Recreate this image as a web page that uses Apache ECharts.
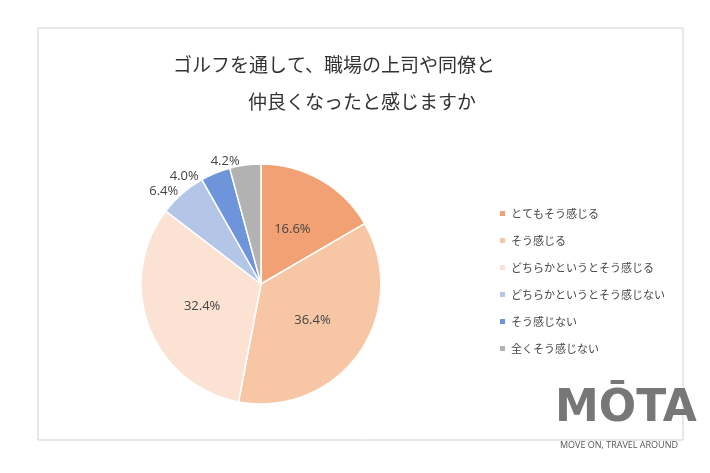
<!DOCTYPE html><html><head><meta charset="utf-8"><script src="https://cdn.jsdelivr.net/npm/echarts@6/dist/echarts.min.js"></script>
<style>body{margin:0;background:#fff}#c{width:710px;height:473px}</style></head><body><div id="c"></div><script>
const categories=['とてもそう感じる','そう感じる','どちらかというとそう感じる','どちらかというとそう感じない','そう感じない','全くそう感じない'];
const values=[16.6,36.4,32.4,6.4,4.0,4.2];
const colors=['#F2A175','#F7C6A5','#FBE2D3','#B3C6E8','#6E95DB','#B2B2B2'];
const inside=[true,true,true,false,false,false];
const chart=echarts.init(document.getElementById('c'));
const F='"Noto Sans CJK JP",sans-serif';
chart.setOption({
 animation:false,
 graphic:[
  {type:'rect',shape:{x:38,y:28,width:645,height:412},style:{fill:'#fff',stroke:'#d0d0d0',lineWidth:1}},
  {type:'text',left:173,top:55,style:{text:'ゴルフを通して、職場の上司や同僚と',font:'19px '+F,fill:'#333'}},
  {type:'text',left:248,top:92,style:{text:'仲良くなったと感じますか',font:'19px '+F,fill:'#333'}},
  {type:'text',left:555,top:388,style:{text:'MŌTA',font:'bold 44px "DejaVu Sans",sans-serif',fill:'#777'}},
  {type:'text',left:560,top:441,style:{text:'MOVE ON, TRAVEL AROUND',font:'9px "Open Sans",sans-serif',fill:'#555'}}
 ],
 legend:{orient:'vertical',left:493,top:203,itemWidth:7,itemHeight:7,itemGap:16,icon:'rect',
  textStyle:{fontFamily:F,fontSize:11,color:'#444'},data:categories},
 series:[{type:'pie',center:[261,284],radius:120,startAngle:90,clockwise:true,
  itemStyle:{borderColor:'#fff',borderWidth:1.5},
  labelLine:{show:false,length:4,length2:0},
  data:categories.map((n,i)=>({name:n,value:values[i],itemStyle:{color:colors[i]},
   label:{show:true,position:inside[i]?'inside':'outside',formatter:v=>v.value.toFixed(1)+'%',
    fontFamily:'"Open Sans",sans-serif',fontSize:13,color:'#444'}}))}]
});
</script></body></html>
